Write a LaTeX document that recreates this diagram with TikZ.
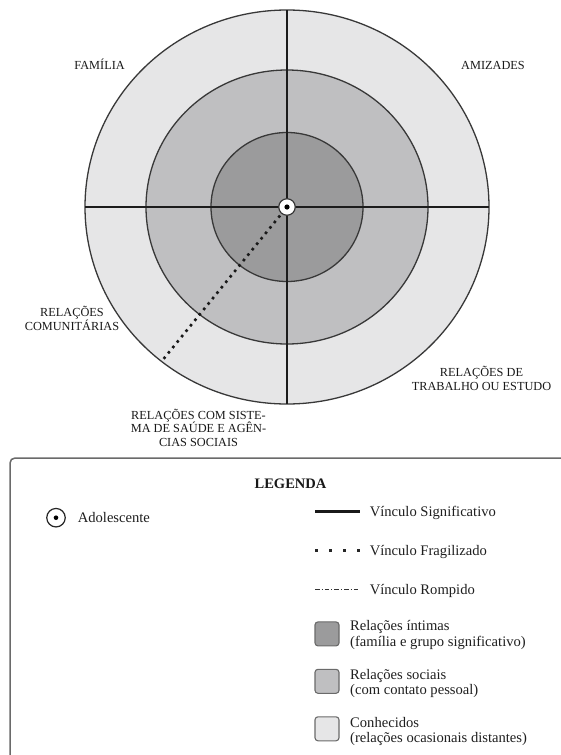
\documentclass[tikz,border=0pt]{standalone}
\usepackage{fontspec}
\setmainfont{Liberation Serif}
\definecolor{ringout}{HTML}{E6E6E7}
\definecolor{ringmid}{HTML}{BFBFC1}
\definecolor{ringin}{HTML}{9B9B9C}
\definecolor{circline}{HTML}{383838}
\definecolor{crossline}{HTML}{1C1C1C}
\definecolor{boxline}{HTML}{6A6A6A}
\tikzset{
  ringstyle/.style={draw=circline, line width=1.3pt},
  crossstyle/.style={draw=crossline, line width=1.9pt},
  fragil/.style={draw=black!90, line width=2.6pt, dash pattern=on 2.6pt off 4.4pt},
  lab/.style={font=\fontsize{12.3}{13.3}\selectfont, text=black!90, inner sep=0pt, anchor=base},
  leg/.style={font=\fontsize{14.6}{16}\selectfont, text=black!88, inner sep=0pt, anchor=base west},
  lbox/.style={draw=boxline, line width=1.1pt, rounded corners=3pt, minimum size=24pt, inner sep=0pt},
}
\begin{document}
\begin{tikzpicture}[x=1pt,y=-1pt]
\useasboundingbox (0,0) rectangle (561,755);
\clip (0,0) rectangle (561,755);
\fill[white] (0,0) rectangle (561,755);

% rings
\coordinate (c) at (287,207);
\filldraw[ringstyle, fill=ringout] (c) ellipse [x radius=202pt, y radius=197pt];
\filldraw[ringstyle, fill=ringmid] (c) ellipse [x radius=141pt, y radius=137pt];
\filldraw[ringstyle, fill=ringin] (c) ellipse [x radius=76pt, y radius=74.5pt];

% cross
\coordinate (west) at (85,207);
\coordinate (east) at (489,207);
\coordinate (north) at (287,10);
\coordinate (south) at (287,404);
\draw[crossstyle] (west) -- (east);
\draw[crossstyle] (north) -- (south);

% fragile link
\coordinate (fragend) at (163.5,359);
\draw[fragil, shorten <=11pt] (c) -- (fragend);

% adolescent marker
\node[circle, draw=circline, line width=1.2pt, fill=white, minimum size=16.5pt, inner sep=0pt] (ado) at (c) {};
\node[circle, fill=black, minimum size=5.2pt, inner sep=0pt] (adodot) at (c) {};

% sector labels
\node[lab] (fam) at (99.6,69) {FAMÍLIA};
\node[lab] (ami) at (493,69) {AMIZADES};
\node[lab] (com1) at (72,316.7) {RELAÇÕES};
\node[lab] (com2) at (72,330) {COMUNITÁRIAS};
\node[lab] (tra1) at (481.5,376.7) {RELAÇÕES DE};
\node[lab] (tra2) at (481.5,390) {TRABALHO OU ESTUDO};
\node[lab] (sis1) at (198.5,419.5) {RELAÇÕES COM SISTE-};
\node[lab] (sis2) at (198.5,432.8) {MA DE SAÚDE E AGÊN-};
\node[lab] (sis3) at (198.5,446.1) {CIAS SOCIAIS};

% legend frame
\coordinate (lbl) at (10,775);
\coordinate (ltl) at (10,458);
\coordinate (ltr) at (580,458);
\draw[draw=boxline, line width=1.5pt, rounded corners=5pt] (lbl) -- (ltl) -- (ltr);

\node[font=\fontsize{14.5}{16}\selectfont\bfseries, text=black!90, inner sep=0pt, anchor=base] (legtitle) at (290.5,488.3) {LEGENDA};

% adolescent legend
\node[circle, draw=black!85, line width=1.2pt, minimum size=18.5pt, inner sep=0pt] (lado) at (56,517.7) {};
\node[circle, fill=black, minimum size=4.6pt, inner sep=0pt] (ladodot) at (56,517.7) {};
\node[leg] (tado) at (77.6,522.7) {Adolescente};

% link legends
\coordinate (s1a) at (315,511.5);
\coordinate (s1b) at (360,511.5);
\draw[black!90, line width=3pt] (s1a) -- (s1b);
\node[leg] (ts1) at (369.6,516.7) {Vínculo Significativo};

\coordinate (s2a) at (315,550.5);
\coordinate (s2b) at (361,550.5);
\draw[black!85, line width=2.6pt, dash pattern=on 2.6pt off 11.4pt] (s2a) -- (s2b);
\node[leg] (ts2) at (369.6,555.3) {Vínculo Fragilizado};

\coordinate (s3a) at (315,589.5);
\coordinate (s3b) at (360,589.5);
\draw[black!80, line width=0.9pt, dash pattern=on 4.5pt off 2pt on 1.2pt off 2pt] (s3a) -- (s3b);
\node[leg] (ts3) at (369.6,594.3) {Vínculo Rompido};

% area legends
\node[lbox, fill=ringin] (b1) at (327,633.9) {};
\node[leg] (tb1a) at (350,630.7) {Relações íntimas};
\node[leg] (tb1b) at (350,646.7) {(família e grupo significativo)};

\node[lbox, fill=ringmid] (b2) at (327,681.3) {};
\node[leg] (tb2a) at (350,679) {Relações sociais};
\node[leg] (tb2b) at (350,694.5) {(com contato pessoal)};

\node[lbox, fill=ringout] (b3) at (327,728.8) {};
\node[leg] (tb3a) at (350,727.3) {Conhecidos};
\node[leg] (tb3b) at (350,742.8) {(relações ocasionais distantes)};
\end{tikzpicture}
\end{document}
